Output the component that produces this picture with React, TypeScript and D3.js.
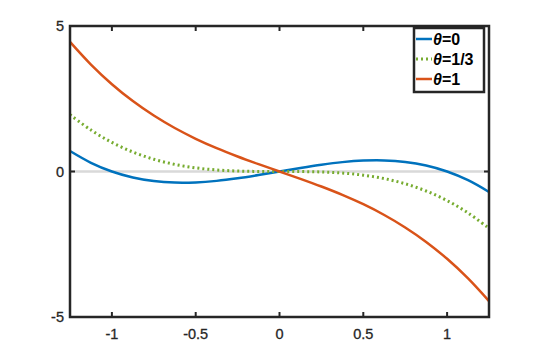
import React from 'react';
import * as d3 from 'd3';

const xs = [-1.25, -1.125, -1, -0.875, -0.75, -0.625, -0.5, -0.375, -0.25, -0.125, 0,
  0.125, 0.25, 0.375, 0.5, 0.625, 0.75, 0.875, 1, 1.125, 1.25];
const theta0 = [0.703, 0.299, 0, -0.205, -0.328, -0.381, -0.375, -0.322, -0.234, -0.123, 0,
  0.123, 0.234, 0.322, 0.375, 0.381, 0.328, 0.205, 0, -0.299, -0.703];
const theta13 = [1.953, 1.424, 1, 0.67, 0.422, 0.244, 0.125, 0.053, 0.016, 0.002, 0,
  -0.002, -0.016, -0.053, -0.125, -0.244, -0.422, -0.67, -1, -1.424, -1.953];
const theta1 = [4.453, 3.674, 3, 2.42, 1.922, 1.494, 1.125, 0.803, 0.516, 0.252, 0,
  -0.252, -0.516, -0.803, -1.125, -1.494, -1.922, -2.42, -3, -3.674, -4.453];
const xTicks = [-1, -0.5, 0, 0.5, 1];
const yTicks = [-5, 0, 5];

const series = [
  { label: '=0', values: theta0, color: '#0072BD', dash: null },
  { label: '=1/3', values: theta13, color: '#77AC30', dash: '2 3' },
  { label: '=1', values: theta1, color: '#D95319', dash: null },
];

export default function App() {
  const width = 540, height = 357;
  const m = { left: 70, right: 51, top: 26, bottom: 40 };
  const x = d3.scaleLinear().domain([-1.25, 1.25]).range([m.left, width - m.right]);
  const y = d3.scaleLinear().domain([-5, 5]).range([height - m.bottom, m.top]);
  const line = d3.line<number>().x((d, i) => x(xs[i])).y(d => y(d)).curve(d3.curveCatmullRom);
  const axisColor = '#262626';
  const font = 'Liberation Sans, Arial, sans-serif';

  return (
    <svg width={width} height={height} style={{ position: 'absolute', left: 0, top: 0 }}
      fontFamily={font}>
      <rect width={width} height={height} fill="#fff" />
      {/* zero line */}
      <line x1={x(-1.25)} x2={x(1.25)} y1={y(0)} y2={y(0)} stroke="#d9d9d9" strokeWidth={2.5} />
      {series.map(s => (
        <path key={s.label} d={line(s.values) || ''} fill="none" stroke={s.color}
          strokeWidth={s.dash ? 3 : 2.5} strokeDasharray={s.dash || undefined} />
      ))}
      {/* ticks */}
      {xTicks.map(t => (
        <g key={'x' + t}>
          <line x1={x(t)} x2={x(t)} y1={y(-5)} y2={y(-5) - 5} stroke={axisColor} strokeWidth={2} />
          <line x1={x(t)} x2={x(t)} y1={y(5)} y2={y(5) + 5} stroke={axisColor} strokeWidth={2} />
          <text x={x(t)} y={y(-5) + 22} textAnchor="middle" fontSize={14.5}
            fill={axisColor} stroke={axisColor} strokeWidth={0.3}>{t}</text>
        </g>
      ))}
      {yTicks.map(t => (
        <g key={'y' + t}>
          <line x1={x(-1.25)} x2={x(-1.25) + 5} y1={y(t)} y2={y(t)} stroke={axisColor} strokeWidth={2} />
          <line x1={x(1.25)} x2={x(1.25) - 5} y1={y(t)} y2={y(t)} stroke={axisColor} strokeWidth={2} />
          <text x={x(-1.25) - 6} y={y(t) + 5} textAnchor="end" fontSize={14.5}
            fill={axisColor} stroke={axisColor} strokeWidth={0.3}>{t}</text>
        </g>
      ))}
      <rect x={x(-1.25)} y={y(5)} width={x(1.25) - x(-1.25)} height={y(-5) - y(5)}
        fill="none" stroke={axisColor} strokeWidth={2.5} />
      {/* legend */}
      <g transform="translate(414,28)">
        <rect width={70} height={64} fill="#fff" stroke={axisColor} strokeWidth={2.5} />
        {series.map((s, i) => (
          <g key={s.label} transform={`translate(0,${11 + i * 20})`}>
            <line x1={2} x2={18} y1={0} y2={0} stroke={s.color} strokeWidth={s.dash ? 3 : 2.5}
              strokeDasharray={s.dash || undefined} />
            <text x={19} y={6} fontSize={16} fontWeight="bold" fill="#000">
              <tspan fontStyle="italic">θ</tspan>{s.label}
            </text>
          </g>
        ))}
      </g>
    </svg>
  );
}
